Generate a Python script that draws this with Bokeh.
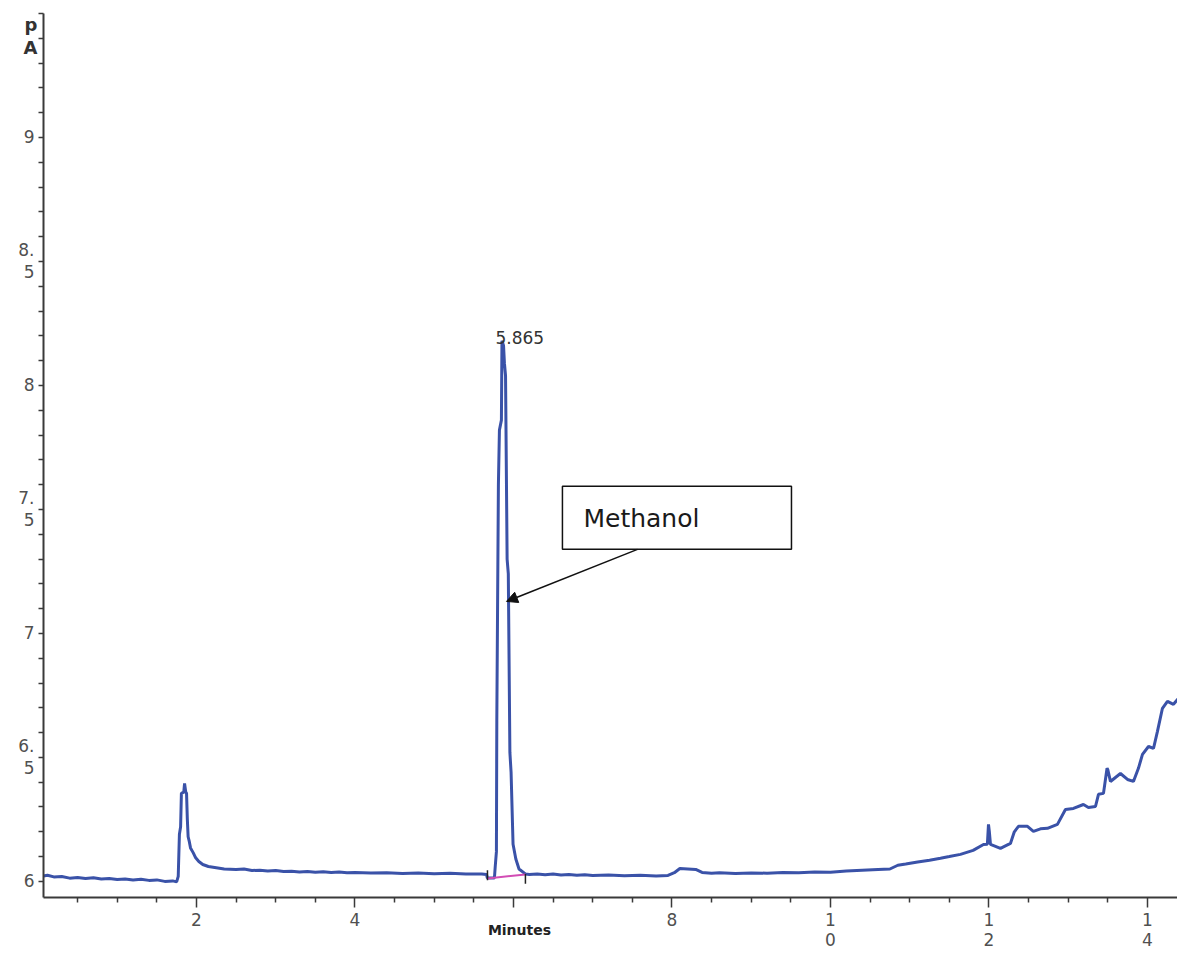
from bokeh.plotting import figure
from bokeh.models import (Range1d, FixedTicker, Label, BoxAnnotation, Arrow, NormalHead,
                          LinearAxis)
from bokeh.embed import file_html
from bokeh.resources import INLINE

# ---- chromatogram trace (minutes, pA) ----
time_min = [
    0.07, 0.12, 0.2, 0.3, 0.4, 0.5, 0.6, 0.7, 0.8, 0.9, 1.0, 1.1, 1.2, 1.3, 1.4, 1.5, 1.6, 1.7, 1.75,
    1.77, 1.785, 1.80, 1.81, 1.84, 1.85, 1.865, 1.875, 1.885, 1.895, 1.91, 1.925, 1.96, 1.99, 2.03,
    2.08, 2.15, 2.25, 2.35, 2.5, 2.6, 2.7,
    2.8, 2.9, 3.0, 3.1, 3.2, 3.3, 3.4, 3.5, 3.6, 3.7, 3.8, 3.9, 4.0, 4.2, 4.4, 4.6, 4.8, 5.0, 5.2,
    5.4, 5.6, 5.66, 5.67, 5.76,
    5.77, 5.785, 5.79, 5.81, 5.823, 5.848, 5.855, 5.875, 5.886, 5.90, 5.92, 5.935, 5.955, 5.97,
    5.995, 6.03, 6.07, 6.15,
    6.2, 6.3, 6.4, 6.5, 6.6, 6.7, 6.8, 6.9, 7.0, 7.2, 7.4, 7.6, 7.8, 7.95, 8.03, 8.1, 8.2, 8.3,
    8.38, 8.5, 8.6, 8.8, 9.0, 9.2, 9.4, 9.6, 9.8, 10.0, 10.2, 10.4, 10.6, 10.75, 10.85, 10.95,
    11.1, 11.25, 11.388, 11.5, 11.64, 11.8, 11.931, 11.98, 11.994, 12.005, 12.019, 12.145, 12.271,
    12.32, 12.372, 12.486, 12.561, 12.65, 12.738, 12.864, 12.965, 13.066, 13.192, 13.255, 13.344,
    13.382, 13.445, 13.49, 13.5, 13.533, 13.6, 13.659, 13.748, 13.823, 13.886, 13.937, 14.013,
    14.076, 14.126, 14.189, 14.252, 14.328, 14.391, 14.416, 14.442, 14.479, 14.517, 14.543, 14.58,
]
signal_pA = [
    6.022, 6.025, 6.018, 6.02, 6.013, 6.016, 6.012, 6.015, 6.01, 6.012, 6.008, 6.01, 6.006, 6.009,
    6.004, 6.006, 6.0, 6.002, 5.998,
    6.02, 6.19, 6.22, 6.355, 6.36, 6.395, 6.36, 6.355, 6.25, 6.18, 6.16, 6.135, 6.115, 6.095, 6.08,
    6.068, 6.06, 6.055, 6.05, 6.048, 6.05, 6.044,
    6.045, 6.042, 6.044, 6.04, 6.041, 6.038, 6.04, 6.037, 6.039, 6.036, 6.038, 6.035, 6.036, 6.034,
    6.035, 6.032, 6.034, 6.031, 6.033, 6.03, 6.03, 6.028, 6.014, 6.014,
    6.06, 6.12, 6.65, 7.6, 7.82, 7.86, 8.18, 8.16, 8.09, 8.04, 7.3, 7.24, 6.52, 6.44,
    6.15, 6.09, 6.05, 6.03,
    6.028, 6.03, 6.027, 6.03, 6.026, 6.028, 6.025, 6.027, 6.024, 6.026, 6.023, 6.025, 6.022, 6.024,
    6.035, 6.052, 6.05, 6.048, 6.036, 6.033, 6.035, 6.032, 6.034, 6.033, 6.036, 6.035, 6.038, 6.037,
    6.042, 6.045, 6.048, 6.05, 6.065, 6.07,
    6.078, 6.085, 6.093, 6.10, 6.109, 6.125, 6.149, 6.15, 6.23, 6.2, 6.149, 6.133, 6.153,
    6.2, 6.222, 6.222, 6.202, 6.212, 6.214, 6.23, 6.29, 6.294, 6.31, 6.298, 6.302,
    6.351, 6.355, 6.456, 6.45, 6.403, 6.42, 6.435, 6.411, 6.403, 6.456, 6.512, 6.544,
    6.536, 6.605, 6.698, 6.726, 6.714, 6.738, 6.778, 6.847, 6.940, 6.956, 7.02, 7.101,
]

# integration baseline of the methanol peak
integ_x = [5.672, 6.151]
integ_y = [6.012, 6.028]
marker_y_top = [6.045, 6.030]
marker_y_bot = [6.005, 5.990]

peak_time = 5.865
peak_label = "5.865"
peak_label_y = 8.194

# ticks
x_major = [2, 4, 6, 8, 10, 12, 14]
x_minor = [0.5, 1, 1.5, 2.5, 3, 3.5, 4.5, 5, 5.5, 6.5, 7, 7.5, 8.5, 9, 9.5,
           10.5, 11, 11.5, 12.5, 13, 13.5, 14.5]
x_labels = {2: "2", 4: "4", 6: "", 8: "8", 10: "1\n0", 12: "1\n2", 14: "1\n4"}
y_major = [6, 6.5, 7, 7.5, 8, 8.5, 9, 9.5]
y_minor = [5.9, 6.1, 6.2, 6.3, 6.4, 6.6, 6.7, 6.8, 6.9, 7.1, 7.2, 7.3, 7.4, 7.6, 7.7,
           7.8, 7.9, 8.1, 8.2, 8.3, 8.4, 8.6, 8.7, 8.8, 8.9, 9.1, 9.2, 9.3, 9.4]
y_labels = {6: "6", 6.5: "6.\n5", 7: "7", 7.5: "7.\n5", 8: "8", 8.5: "8.\n5", 9: "9", 9.5: ""}

# axis titles
x_title = "Minutes"
x_title_at = 6.076
y_title = "p\nA"
y_title_at = 9.41

# annotation box and arrow (data coordinates)
box_left, box_right, box_bottom, box_top = 6.618, 9.508, 7.339, 7.593
arrow_start = (7.565, 7.339)
arrow_end = (5.912, 7.129)

FONT = "DejaVu Sans"
TICK_COLOR = "#505050"
AXIS_COLOR = "#3a3a3a"

p = figure(width=1177, height=952, x_range=Range1d(0.07, 14.379), y_range=Range1d(5.935, 9.5),
           output_backend="svg", toolbar_location=None,
           min_border_left=43, min_border_right=0, min_border_top=13, min_border_bottom=55)
p.outline_line_color = None
p.grid.visible = False
p.background_fill_color = "white"

p.line(time_min, signal_pA, line_color="#3a52a8", line_width=3)
p.line(integ_x, integ_y, line_color="#d24cb4", line_width=2)
p.segment(x0=integ_x, y0=marker_y_bot, x1=integ_x, y1=marker_y_top, line_color="#222222", line_width=1.5)

# x axis
xa = p.xaxis[0]
xa.ticker = FixedTicker(ticks=x_major, minor_ticks=x_minor)
xa.major_label_overrides = x_labels
xa.axis_line_width = 2
xa.axis_line_color = AXIS_COLOR
xa.major_tick_line_color = AXIS_COLOR
xa.minor_tick_line_color = AXIS_COLOR
xa.major_tick_line_width = 1.5
xa.minor_tick_line_width = 1.5
xa.major_tick_out = 10
xa.major_tick_in = 0
xa.minor_tick_out = 5
xa.minor_tick_in = 0
xa.major_label_standoff = 2
xa.major_label_text_font = FONT
xa.major_label_text_font_size = "17px"
xa.major_label_text_color = TICK_COLOR
xa.major_label_text_line_height = 1.0

# y axis
ya = p.yaxis[0]
ya.ticker = FixedTicker(ticks=y_major, minor_ticks=y_minor)
ya.major_label_overrides = y_labels
ya.axis_line_width = 2
ya.axis_line_color = AXIS_COLOR
ya.major_tick_line_color = AXIS_COLOR
ya.minor_tick_line_color = AXIS_COLOR
ya.major_tick_line_width = 1.5
ya.minor_tick_line_width = 1.5
ya.major_tick_out = 5
ya.major_tick_in = 0
ya.minor_tick_out = 5
ya.minor_tick_in = 0
ya.major_label_standoff = 4
ya.major_label_text_font = FONT
ya.major_label_text_font_size = "17px"
ya.major_label_text_color = TICK_COLOR
ya.major_label_text_line_height = 1.1

# bold "Minutes" title under the 6-minute tick: an extra label-only axis pulled up
xt = LinearAxis(ticker=FixedTicker(ticks=[x_title_at], minor_ticks=[]),
                major_label_overrides={x_title_at: x_title})
xt.axis_line_color = None
xt.major_tick_line_color = None
xt.minor_tick_line_color = None
xt.major_tick_out = 0
xt.major_tick_in = 0
xt.minor_tick_out = 0
xt.minor_tick_in = 0
xt.major_label_standoff = -31
xt.major_label_text_font = FONT
xt.major_label_text_font_size = "14px"
xt.major_label_text_font_style = "bold"
xt.major_label_text_color = "#222222"
p.add_layout(xt, "below")

# bold "pA" unit title at the top of the y axis: an extra label-only axis pulled right
yt = LinearAxis(ticker=FixedTicker(ticks=[y_title_at], minor_ticks=[]),
                major_label_overrides={y_title_at: y_title})
yt.axis_line_color = None
yt.major_tick_line_color = None
yt.minor_tick_line_color = None
yt.major_tick_out = 0
yt.major_tick_in = 0
yt.minor_tick_out = 0
yt.minor_tick_in = 0
yt.major_label_standoff = -22
yt.major_label_text_font = FONT
yt.major_label_text_font_size = "18px"
yt.major_label_text_font_style = "bold"
yt.major_label_text_color = "#333333"
yt.major_label_text_line_height = 1.1
p.add_layout(yt, "left")

# peak retention time label
p.add_layout(Label(x=peak_time - 0.092, y=peak_label_y, text=peak_label, text_align="left",
                   text_baseline="middle", text_font=FONT, text_font_size="17px", text_color="#333333"))

# callout box
p.add_layout(BoxAnnotation(left=box_left, right=box_right, bottom=box_bottom, top=box_top,
                           fill_color="white", fill_alpha=1.0, line_color="#111111", line_width=1.5,
                           line_alpha=1.0))
p.add_layout(Label(x=6.883, y=7.462, text="Methanol", text_align="left", text_baseline="middle",
                   text_font=FONT, text_font_size="25px", text_color="#1a1a1a"))
p.add_layout(Arrow(end=NormalHead(size=11, fill_color="#111111", line_color="#111111"),
                   x_start=arrow_start[0], y_start=arrow_start[1],
                   x_end=arrow_end[0], y_end=arrow_end[1],
                   line_color="#111111", line_width=1.5))

open("out.html", "w").write(file_html(p, INLINE))
